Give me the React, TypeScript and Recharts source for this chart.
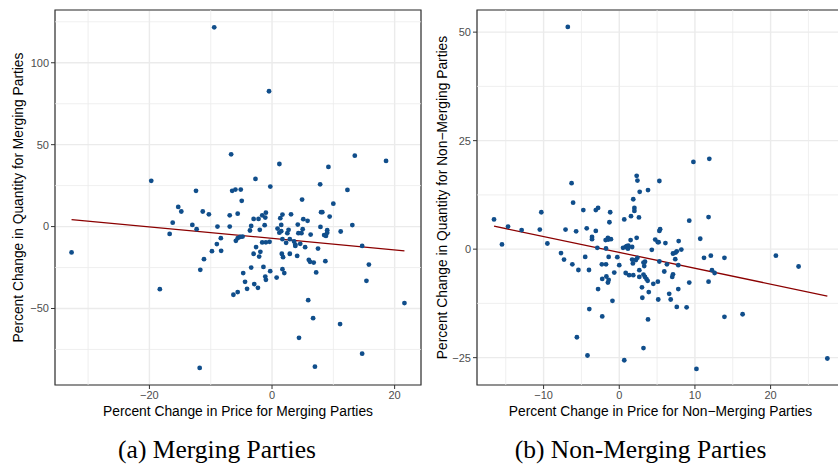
import React from 'react';
import {
  ScatterChart, Scatter, XAxis, YAxis, CartesianGrid, ReferenceLine, ReferenceArea, ZAxis,
} from 'recharts';

// ---------- Panel (a): Merging Parties ----------
const mergingPrice: number[] = [
  -32.7, -19.7, -18.3, -16.7, -16.2, -15.3, -14.8, -13.0, -12.4, -12.3,
  -11.8, -11.7, -11.3, -11.1, -10.3, -9.8, -9.43, -9.0, -8.9, -8.35,
  -8.3, -6.9, -6.9, -6.67, -6.5, -6.3, -5.97, -5.9, -5.6, -5.6,
  -5.6, -5.2, -5.1, -4.94, -4.8, -4.7, -4.4, -4.07, -3.6, -3.4,
  -3.4, -3.0, -3.0, -2.9, -2.7, -2.6, -2.3, -2.2, -2.1, -2.0,
  -1.9, -1.6, -1.6, -1.4, -1.2, -1.1, -1.0, -1.1, -1.0, -1.0,
  -0.49, -0.4, -0.3, -0.28, 0.75, 0.9, 1.2, 1.2, 1.35, 1.5,
  1.5, 1.6, 1.7, 1.7, 1.7, 1.8, 2.0, 2.3, 2.5, 2.7,
  2.9, 2.9, 3.1, 3.6, 3.8, 3.8, 4.1, 4.2, 4.3, 4.4,
  4.6, 4.8, 4.9, 5.0, 5.1, 5.4, 5.8, 5.9, 6.0, 6.2,
  6.3, 6.7, 6.8, 7.0, 7.2, 7.5, 7.85, 7.9, 8.0, 8.2,
  8.5, 8.7, 8.8, 9.0, 9.0, 9.2, 9.4, 10.0, 11.1, 11.2,
  12.3, 13.1, 13.5, 14.7, 14.7, 15.4, 15.8, 18.6, 21.6,
];
const mergingQty: number[] = [
  -15.8, 27.9, -38.2, -4.5, 2.4, 12.0, 9.2, 1.0, 21.8, -1.6,
  -86.3, -26.4, 9.2, -19.9, 7.5, -15.0, 121.6, -10.7, 0.0, -7.1,
  -14.8, 6.9, 0.0, 44.1, 21.8, -41.6, 22.6, -8.7, 7.9, -7.1,
  -40.0, -6.3, 22.6, 15.7, -6.1, -28.4, -33.7, -38.0, -2.4, 0.4,
  -25.0, 4.7, -16.6, -35.1, 29.1, -12.5, -37.4, 4.7, -18.3, -2.0,
  -15.4, 6.9, -9.7, -24.6, 0.85, 5.5, 8.5, -30.5, -32.5, -9.6,
  82.6, -9.3, -27.2, 24.4, -31.1, -1.2, 38.2, -3.7, 5.1, 1.0,
  -2.8, -16.6, 7.3, -7.7, -26.0, -18.7, -28.4, -9.9, -4.0, -2.0,
  -7.7, -16.6, 7.5, -9.1, -11.8, -11.0, -17.9, 1.2, -4.0, -67.9,
  -10.5, -4.0, 16.5, -1.6, 4.5, -12.6, 3.5, -44.9, -20.3, -21.5,
  -4.9, -55.9, -22.0, -85.5, -28.0, -13.4, 25.8, -0.2, 8.8, 8.8,
  -5.2, -21.1, -5.7, -2.2, -3.8, 36.4, 6.1, 14.0, -59.5, -3.0,
  22.4, 0.9, 43.3, -11.8, -77.6, -33.1, -23.2, 40.1, -46.7,
];
const mergingFitX: number[] = [-32.7, 21.6];
const mergingFitY: number[] = [4.3, -14.8];

// ---------- Panel (b): Non-Merging Parties ----------
const nonMergingPrice: number[] = [
  -6.8, -6.3, 2.3, 2.7, 3.8, 5.3, 9.8, 11.9, 1.85,
  -16.55, -15.5, -14.7, -12.9, -10.3, -10.5, -9.5, -7.7, -7.3, -7.1,
  -6.1, -6.2, -5.7, -5.4, -5.6, -4.75, -4.5, -4.3, -4.0, -3.96,
  -4.2, -3.6, -3.6, -3.1, -3.1, -2.8, -2.9, -2.8, -2.3, -2.25,
  -2.25, -1.7, -1.5, -1.4, -1.75, -1.8, -1.5, -1.45, -1.1, -1.75,
  -1.4, -1.3, -1.2, -0.9, -0.66, -0.26, 0.0, 0.66, 0.5, 0.85,
  1.0, 1.2, 0.66, 0.85, 1.15, 1.7, 1.3, 1.85, 1.5, 1.55,
  1.7, 1.8, 2.2, 2.4, 2.0, 2.0, 2.3, 2.4, 2.6, 2.65,
  2.65, 3.0, 3.05, 3.2, 3.2, 3.3, 3.4, 3.2, 3.4, 3.6,
  3.75, 3.9, 3.8, 4.3, 4.5, 4.75, 5.1, 5.2, 5.1, 5.15,
  5.3, 5.3, 5.4, 5.95, 6.1, 6.3, 6.6, 6.8, 7.0, 7.1,
  7.4, 7.1, 7.45, 7.6, 7.6, 7.8, 7.85, 7.8, 8.2, 8.9,
  9.25, 9.25, 10.2, 10.7, 11.2, 11.8, 11.8, 12.1, 12.25, 12.6,
  13.9, 13.9, 16.3, 20.7, 23.7, 27.5,
];
const nonMergingQty: number[] = [
  51.2, 15.2, 16.9, 13.2, 13.6, 15.7, 20.1, 20.8, 11.5,
  6.85, 1.1, 5.2, 4.4, 8.5, 4.5, 1.3, -0.9, -2.4, 4.5,
  10.7, -3.5, 4.1, -4.8, -20.3, 9.0, -1.8, 4.8, -4.8, -13.8,
  -24.5, 2.8, 2.3, 4.2, 9.0, 9.5, 0.3, -9.2, -3.5, -15.5,
  -6.85, -6.3, -7.7, -7.1, -3.5, 2.1, 2.6, 2.2, 2.3, 0.15,
  -1.8, 6.2, 8.5, -11.9, -5.4, -1.85, -3.7, 6.85, 0.3, 0.5,
  0.7, 0.8, -25.6, -5.5, 0.1, 0.5, -6.0, -6.0, 2.1, 7.6,
  -2.4, -3.3, -2.5, -2.0, 9.5, 8.8, 2.6, 15.8, 7.3, -4.85,
  -6.4, -8.8, -11.2, -22.8, -3.1, -3.9, -2.9, -5.85, -6.4, -6.9,
  -7.3, -9.9, -16.2, -0.15, -8.0, 2.2, 1.6, 1.6, -7.5, -11.6,
  -2.85, 4.2, 4.6, -5.15, 1.4, -3.5, -10.3, -11.6, -6.4, -5.8,
  -2.3, -1.0, -0.8, -0.5, -13.3, -9.2, 1.85, -3.7, -0.1, -13.4,
  6.55, -7.7, -27.6, 2.4, -2.0, 7.4, -7.5, -1.5, -4.85, -5.5,
  -2.0, -15.6, -15.0, -1.5, -4.0, -25.2,
];
const nonMergingFitX: number[] = [-16.55, 27.5];
const nonMergingFitY: number[] = [5.3, -10.8];

// ---------- Axis configuration ----------
const leftXTicks = [-20, 0, 20];
const leftXMinor = [-30, -10, 10];
const leftYTicks = [-50, 0, 50, 100];
const leftYMinor = [-75, -25, 25, 75, 125];
const leftXDomain: [number, number] = [-35.4, 24.3];
const leftYDomain: [number, number] = [-96.7, 132.2];

const rightXTicks = [-10, 0, 10, 20];
const rightXMinor = [-15, -5, 5, 15, 25];
const rightYTicks = [-25, 0, 25, 50];
const rightYMinor = [-12.5, 12.5, 37.5];
const rightXDomain: [number, number] = [-18.8, 29.7];
const rightYDomain: [number, number] = [-31.3, 55.1];

const leftXTitle = 'Percent Change in Price for Merging Parties';
const leftYTitle = 'Percent Change in Quantity for Merging Parties';
const rightXTitle = 'Percent Change in Price for Non\u2212Merging Parties';
const rightYTitle = 'Percent Change in Quantity for Non\u2212Merging Parties';
const captionA = '(a) Merging Parties';
const captionB = '(b) Non-Merging Parties';

const POINT = '#104E8B';
const FIT = '#8B0000';
const GRID = '#EBEBEB';
const BORDER = '#333333';
const FONT = '"Liberation Sans", Arial, sans-serif';
const SERIF = '"Liberation Serif", "Times New Roman", serif';

const fmt = (v: number) => (v < 0 ? '\u2212' + Math.abs(v) : String(v));

const Dot = (props: any) => <circle cx={props.cx} cy={props.cy} r={2.4} fill={POINT} />;

type PanelProps = {
  xs: number[];
  ys: number[];
  fitX: number[];
  fitY: number[];
  xTicks: number[];
  xMinor: number[];
  yTicks: number[];
  yMinor: number[];
  xDomain: [number, number];
  yDomain: [number, number];
  xTitle: string;
  yTitle: string;
  width: number;
  marginRight: number;
  yLabelOffset: number;
};

function Panel(p: PanelProps) {
  const data = p.xs.map((x, i) => ({ x, y: p.ys[i] }));
  const tickStyle = { fill: '#4D4D4D', fontSize: 11, fontFamily: FONT };
  return (
    <ScatterChart
      width={p.width}
      height={430}
      margin={{ top: 10, right: p.marginRight, bottom: 5, left: 0 }}
    >
      <CartesianGrid stroke={GRID} strokeWidth={1.4} />
      {p.xMinor.map((v) => (
        <ReferenceLine key={'xm' + v} x={v} stroke={GRID} strokeWidth={0.8} />
      ))}
      {p.yMinor.map((v) => (
        <ReferenceLine key={'ym' + v} y={v} stroke={GRID} strokeWidth={0.8} />
      ))}
      <XAxis
        type="number"
        dataKey="x"
        domain={p.xDomain}
        ticks={p.xTicks}
        allowDataOverflow
        height={40}
        axisLine={false}
        tickLine={{ stroke: BORDER }}
        tickSize={4}
        tickMargin={2}
        tick={tickStyle}
        tickFormatter={fmt}
        label={{
          value: p.xTitle,
          position: 'insideBottom',
          offset: 9,
          style: { fill: '#000', fontSize: 13.8, fontFamily: FONT },
        }}
      />
      <YAxis
        type="number"
        dataKey="y"
        domain={p.yDomain}
        ticks={p.yTicks}
        allowDataOverflow
        width={55}
        axisLine={false}
        tickLine={{ stroke: BORDER }}
        tickSize={4}
        tickMargin={2}
        tick={tickStyle}
        tickFormatter={fmt}
        label={{
          value: p.yTitle,
          angle: -90,
          position: 'insideLeft',
          offset: p.yLabelOffset,
          style: { fill: '#000', fontSize: 13.8, fontFamily: FONT, textAnchor: 'middle' },
        }}
      />
      <ZAxis range={[18, 18]} />
      <Scatter data={data} shape={Dot} isAnimationActive={false} />
      <ReferenceLine
        segment={[
          { x: p.fitX[0], y: p.fitY[0] },
          { x: p.fitX[1], y: p.fitY[1] },
        ]}
        stroke={FIT}
        strokeWidth={1.3}
      />
      <ReferenceArea
        x1={p.xDomain[0]}
        x2={p.xDomain[1]}
        y1={p.yDomain[0]}
        y2={p.yDomain[1]}
        fill="none"
        fillOpacity={0}
        stroke={BORDER}
        strokeWidth={1.2}
      />
    </ScatterChart>
  );
}

export default function App() {
  return (
    <div
      style={{
        position: 'absolute',
        left: 0,
        top: 0,
        width: 838,
        height: 464,
        overflow: 'hidden',
        background: '#fff',
      }}
    >
      <div style={{ position: 'absolute', left: 0, top: 0 }}>
        <Panel
          xs={mergingPrice}
          ys={mergingQty}
          fitX={mergingFitX}
          fitY={mergingFitY}
          xTicks={leftXTicks}
          xMinor={leftXMinor}
          yTicks={leftYTicks}
          yMinor={leftYMinor}
          xDomain={leftXDomain}
          yDomain={leftYDomain}
          xTitle={leftXTitle}
          yTitle={leftYTitle}
          width={424}
          marginRight={3}
          yLabelOffset={18}
        />
      </div>
      <div style={{ position: 'absolute', left: 422, top: 0 }}>
        <Panel
          xs={nonMergingPrice}
          ys={nonMergingQty}
          fitX={nonMergingFitX}
          fitY={nonMergingFitY}
          xTicks={rightXTicks}
          xMinor={rightXMinor}
          yTicks={rightYTicks}
          yMinor={rightYMinor}
          xDomain={rightXDomain}
          yDomain={rightYDomain}
          xTitle={rightXTitle}
          yTitle={rightYTitle}
          width={430}
          marginRight={8}
          yLabelOffset={20}
        />
      </div>
      <svg
        width={838}
        height={464}
        style={{ position: 'absolute', left: 0, top: 0, pointerEvents: 'none' }}
      >
        <text x={217} y={458} textAnchor="middle" fontFamily={SERIF} fontSize={25.5} fill="#000">
          {captionA}
        </text>
        <text x={640.5} y={458} textAnchor="middle" fontFamily={SERIF} fontSize={25.5} fill="#000">
          {captionB}
        </text>
      </svg>
    </div>
  );
}
